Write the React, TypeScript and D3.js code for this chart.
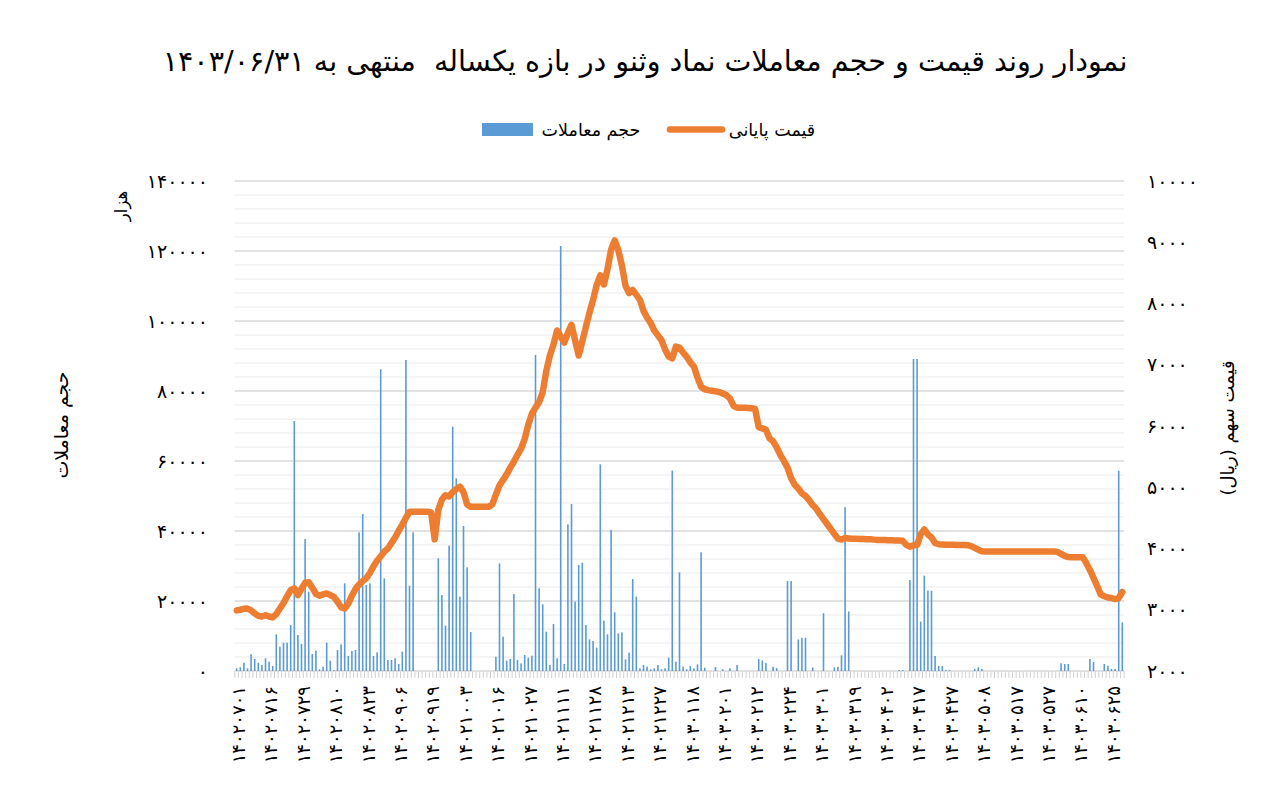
import React from 'react';
import * as d3 from 'd3';

const FA = '۰۱۲۳۴۵۶۷۸۹';
const toFa = (s: string) => s.replace(/\d/g, (d) => FA[+d]);

const titleText = 'نمودار روند قیمت و حجم معاملات نماد وثنو در بازه یکساله  منتهی به ۱۴۰۳/۰۶/۳۱';
const volumeName = 'حجم معاملات';
const priceName = 'قیمت پایانی';
const leftTitle = 'حجم معاملات';
const leftUnit = 'هزار';
const rightTitle = 'قیمت سهم (ریال)';

const dateLabels = [
  '14020701', '14020716', '14020729', '14020810', '14020823', '14020906', '14020919',
  '14021003', '14021016', '14021027', '14021111', '14021128', '14021213', '14021227',
  '14030118', '14030201', '14030212', '14030224', '14030301', '14030319', '14030402',
  '14030417', '14030427', '14030508', '14030517', '14030527', '14030610', '14030625',
];
const labelEvery = 9;

const leftTicks = [0, 20000, 40000, 60000, 80000, 100000, 120000, 140000];
const rightTicks = [2000, 3000, 4000, 5000, 6000, 7000, 8000, 9000, 10000];

// trading volume (thousand shares)
const volume = [
  770, 1050, 2370, 770, 4770, 3430, 2370, 1710, 3620, 2660,
  1430, 10480, 6950, 8090, 8090, 13140, 71430, 10290, 7710, 37710,
  22670, 4860, 5810, 480, 1240, 8090, 2950, 290, 6000, 7620,
  25050, 4290, 5710, 6000, 39620, 44860, 24570, 25050, 4290, 5330,
  86190, 26480, 3140, 3140, 3620, 2000, 5520, 88860, 24380, 39620,
  0, 0, 0, 0, 0, 0, 32190, 21710, 12950, 35810,
  69810, 55050, 21240, 41430, 29620, 11140, 0, 0, 0, 0,
  0, 0, 4090, 30770, 9810, 2950, 3430, 22000, 3140, 2190,
  4570, 3810, 4380, 90290, 23620, 19050, 11240, 1710, 13430, 3620,
  121430, 2000, 41900, 47710, 19810, 30290, 30950, 13140, 9050, 8570,
  6670, 59050, 14380, 10480, 40290, 16760, 10760, 11050, 3330, 5240,
  26290, 21240, 760, 1710, 1240, 480, 760, 1710, 480, 760,
  3810, 57240, 2670, 28190, 1240, 480, 1430, 760, 1900, 33900,
  950, 0, 0, 1140, 0, 500, 0, 760, 0, 1700,
  0, 0, 0, 0, 0, 3400, 3000, 2300, 0, 1200,
  800, 0, 0, 25700, 25700, 0, 9000, 9500, 9500, 0,
  1000, 0, 0, 16500, 0, 0, 1000, 1200, 4500, 46800,
  17000, 0, 0, 0, 0, 0, 0, 0, 0, 0,
  0, 0, 0, 0, 290, 290, 0, 26000, 89140, 89140,
  14100, 27240, 22950, 22950, 4290, 1430, 1430, 290, 290, 0,
  0, 0, 0, 0, 0, 600, 1050, 600, 0, 0,
  0, 0, 0, 0, 0, 0, 0, 0, 0, 0,
  0, 0, 0, 0, 0, 0, 0, 0, 0, 2190,
  2000, 2000, 0, 0, 0, 0, 0, 3430, 2570, 0,
  0, 2000, 1500, 600, 600, 57240, 13900,
];

// closing price (rial)
const price = [
  2990, 3000, 3015, 3020, 2990, 2940, 2900, 2890, 2910, 2890,
  2875, 2930, 3020, 3110, 3220, 3320, 3350, 3240, 3340, 3440,
  3450, 3360, 3260, 3230, 3250, 3265, 3240, 3210, 3130, 3040,
  3020, 3100, 3230, 3340, 3410, 3470, 3515, 3600, 3710, 3800,
  3870, 3950, 4000, 4090, 4180, 4290, 4390, 4500, 4600, 4600,
  4600, 4600, 4600, 4600, 4590, 4150, 4630, 4800, 4870, 4850,
  4920, 4970, 5010, 4920, 4720, 4683, 4683, 4683, 4683, 4683,
  4683, 4720, 4880, 5030, 5120, 5210, 5320, 5420, 5530, 5630,
  5790, 6020, 6200, 6300, 6390, 6550, 6900, 7150, 7330, 7560,
  7460, 7360, 7520, 7650, 7400, 7150, 7380, 7620, 7850, 8060,
  8300, 8460, 8310, 8560, 8880, 9030, 8870, 8620, 8290, 8170,
  8220, 8140, 8060, 7880, 7770, 7680, 7560, 7480, 7400, 7250,
  7135, 7105, 7295, 7280, 7200, 7130, 7040, 6970, 6790, 6640,
  6600, 6585, 6575, 6565, 6555, 6530, 6505, 6450, 6330, 6300,
  6300, 6300, 6295, 6290, 6280, 5980, 5960, 5940, 5800, 5750,
  5650, 5530, 5430, 5320, 5150, 5040, 4980, 4900, 4860, 4790,
  4710, 4650, 4560, 4480, 4400, 4320, 4240, 4160, 4145, 4170,
  4165, 4160, 4160, 4155, 4155, 4150, 4150, 4145, 4140, 4140,
  4140, 4135, 4135, 4130, 4130, 4125, 4060, 4030, 4050, 4060,
  4230, 4310, 4230, 4180, 4090, 4070, 4065, 4060, 4060, 4060,
  4058, 4057, 4056, 4055, 4040, 4010, 3980, 3955, 3950, 3950,
  3950, 3950, 3950, 3950, 3950, 3950, 3950, 3950, 3950, 3950,
  3950, 3950, 3950, 3950, 3950, 3950, 3950, 3950, 3945, 3910,
  3880, 3860, 3858, 3858, 3858, 3858, 3760, 3650, 3520, 3390,
  3250, 3220, 3200, 3190, 3175, 3190, 3290,
];

const FONT = '"DejaVu Sans", sans-serif';

export default function App() {
  const W = 1270;
  const H = 787;
  const left = 234.9;
  const right = 1124.1;
  const top = 181;
  const bottom = 671;
  const N = price.length;

  const x = d3.scaleBand<number>().domain(d3.range(N)).range([left, right]).padding(0);
  const bw = x.bandwidth();
  const cx = (i: number) => (x(i) as number) + bw / 2;
  const yL = d3.scaleLinear().domain([0, 140000]).range([bottom, top]);
  const yR = d3.scaleLinear().domain([2000, 10000]).range([bottom, top]);

  const minorTicks = d3.range(0, 140001, 4000).filter((v) => v % 20000 !== 0);
  const lineGen = d3.line<number>().x((_, i) => cx(i)).y((v) => yR(v));
  const barW = 1.6;

  return (
    <svg
      width={W}
      height={H}
      style={{ position: 'absolute', left: 0, top: 0, background: '#fff' }}
      fontFamily={FONT}
    >
      <rect x={0} y={0} width={W} height={H} fill="#fff" />
      {/* minor gridlines */}
      {minorTicks.map((v) => (
        <line key={'mn' + v} x1={left} x2={right} y1={yL(v)} y2={yL(v)} stroke="#F0F0F0" strokeWidth={1.4} />
      ))}
      {/* major gridlines */}
      {leftTicks.filter((v) => v > 0).map((v) => (
        <line key={'mj' + v} x1={left} x2={right} y1={yL(v)} y2={yL(v)} stroke="#D9D9D9" strokeWidth={1.4} />
      ))}
      {/* x axis with category ticks */}
      {d3.range(N + 1).map((i) => {
        const xx = i < N ? (x(i) as number) : right;
        return <line key={'tk' + i} x1={xx} x2={xx} y1={bottom} y2={bottom + 7} stroke="#D0D0D0" strokeWidth={1} />;
      })}
      <line x1={left} x2={right} y1={bottom} y2={bottom} stroke="#D9D9D9" strokeWidth={1.4} />
      {/* bars */}
      {volume.map((v, i) =>
        v > 0 ? (
          <rect key={'b' + i} x={cx(i) - barW / 2} y={yL(v)} width={barW} height={bottom - yL(v)} fill="#5B9BD5" />
        ) : null
      )}
      {/* price line */}
      <path d={lineGen(price) || ''} fill="none" stroke="#ED7D31" strokeWidth={6.5} strokeLinejoin="round" strokeLinecap="round" />

      {/* left ticks */}
      {leftTicks.map((v) => (
        <text key={'lt' + v} x={208} y={yL(v)} dy="0.35em" textAnchor="end" fontSize={19} fill="#000">
          {toFa(String(v))}
        </text>
      ))}
      {/* right ticks */}
      {rightTicks.map((v) => (
        <text key={'rt' + v} x={1147} y={yR(v)} dy="0.35em" textAnchor="start" fontSize={19} fill="#000">
          {toFa(String(v))}
        </text>
      ))}
      {/* x labels */}
      {dateLabels.map((d, k) => {
        const i = k * labelEvery;
        const xx = cx(i) + 2;
        const yy = 686;
        return (
          <text
            key={'xl' + k}
            transform={`translate(${xx},${yy}) rotate(-90)`}
            textAnchor="end"
            dy="0.35em"
            fontSize={18}
            letterSpacing={0.8}
            fill="#000"
          >
            {toFa(d)}
          </text>
        );
      })}

      {/* axis titles */}
      <text transform="translate(61,425) rotate(-90)" textAnchor="middle" dy="0.35em" fontSize={19} direction="rtl" fill="#000">
        {leftTitle}
      </text>
      <text transform="translate(121,206) rotate(-90)" textAnchor="middle" dy="0.35em" fontSize={16.5} direction="rtl" fill="#000">
        {leftUnit}
      </text>
      <text transform="translate(1228,428) rotate(-90)" textAnchor="middle" dy="0.35em" fontSize={18} direction="rtl" fill="#000">
        {rightTitle}
      </text>

      {/* title */}
      <text x={645} y={71} textAnchor="middle" fontSize={28.6} direction="rtl" fill="#000" style={{ whiteSpace: 'pre' }}>
        {titleText}
      </text>

      {/* legend */}
      <rect x={482} y={123} width={51} height={13} fill="#5B9BD5" />
      <text x={591} y={130} dy="0.35em" textAnchor="middle" fontSize={17.5} direction="rtl" fill="#000">
        {volumeName}
      </text>
      <line x1={670} x2={722} y1={129.5} y2={129.5} stroke="#ED7D31" strokeWidth={6.5} strokeLinecap="round" />
      <text x={772} y={130} dy="0.35em" textAnchor="middle" fontSize={17.5} direction="rtl" fill="#000">
        {priceName}
      </text>
    </svg>
  );
}
